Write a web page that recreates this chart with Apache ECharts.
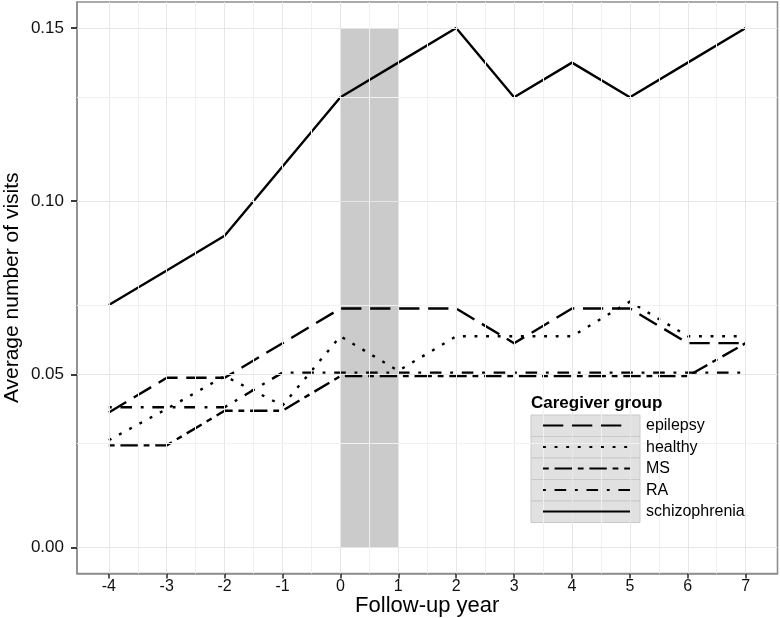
<!DOCTYPE html>
<html><head><meta charset="utf-8">
<script src="https://cdn.jsdelivr.net/npm/echarts@6/dist/echarts.min.js"></script>
<style>html,body{margin:0;padding:0;background:#fff}#c{width:780px;height:618px}</style>
</head><body><div id="c"></div>
<script>
// ---- data ----
const years = [-4, -3, -2, -1, 0, 1, 2, 3, 4, 5, 6, 7];
const groups = ['epilepsy', 'healthy', 'MS', 'RA', 'schizophrenia'];
const epilepsy     = [0.039, 0.049, 0.049, 0.059, 0.069, 0.069, 0.069, 0.059, 0.069, 0.069, 0.059, 0.059];
const healthy      = [0.031, 0.040, 0.0495, 0.041, 0.061, 0.051, 0.061, 0.061, 0.061, 0.071, 0.061, 0.061];
const ms           = [0.0295, 0.0295, 0.0395, 0.0395, 0.0495, 0.0495, 0.0495, 0.0495, 0.0495, 0.0495, 0.0495, 0.059];
const ra           = [0.0405, 0.0405, 0.0405, 0.0505, 0.0505, 0.0505, 0.0505, 0.0505, 0.0505, 0.0505, 0.0505, 0.0505];
const schizophrenia= [0.07, 0.08, 0.09, 0.11, 0.13, 0.14, 0.15, 0.13, 0.14, 0.13, 0.14, 0.15];
const yTicks = [0, 0.05, 0.10, 0.15];
const yMinor = [0.025, 0.075, 0.125];
const xTicks = years;
const xMinor = [-3.5, -2.5, -1.5, -0.5, 0.5, 1.5, 2.5, 3.5, 4.5, 5.5, 6.5];
const windowX = [0, 1];
const windowY = [0, 0.15];

// ---- styles ----
const U = 2.9; // ggplot dash unit
const dashes = {
  epilepsy: [7*U, 3*U],
  healthy: [1*U, 3*U],
  MS: [2*U, 2*U, 6*U, 2*U],
  RA: [1*U, 3*U, 4*U, 3*U],
  schizophrenia: 'solid'
};
const seriesValues = {epilepsy, healthy, MS: ms, RA: ra, schizophrenia};
const FONT = '"Liberation Sans", Arial, Helvetica, sans-serif';
const LW = 2.4;
const Y_MIN = -0.0075, Y_MAX = 0.1575;

const chart = echarts.init(document.getElementById('c'), null, {renderer: 'canvas'});

const gridLines = [];
xTicks.forEach(v => gridLines.push({xAxis: v, lineStyle: {color: '#e6e6e6', width: 1, type: 'solid'}}));
xMinor.forEach(v => gridLines.push({xAxis: v, lineStyle: {color: '#f1f1f1', width: 1, type: 'solid'}}));
yTicks.forEach(v => gridLines.push({yAxis: v, lineStyle: {color: '#e6e6e6', width: 1, type: 'solid'}}));
yMinor.forEach(v => gridLines.push({yAxis: v, lineStyle: {color: '#f1f1f1', width: 1, type: 'solid'}}));

const series = [
  {
    type: 'line', name: '_grid', data: [], z: 0, silent: true,
    markLine: {silent: true, symbol: ['none', 'none'], label: {show: false}, data: gridLines, animation: false}
  },
  {
    type: 'line', name: '_window', data: [], z: 1, silent: true,
    markArea: {silent: true, itemStyle: {color: 'rgba(185,185,185,0.75)'},
      data: [[{xAxis: windowX[0], yAxis: windowY[0]}, {xAxis: windowX[1], yAxis: windowY[1]}]]}
  }
];
groups.forEach(g => {
  series.push({
    type: 'line', name: g, z: 3,
    data: years.map((y, i) => [y, seriesValues[g][i]]),
    symbol: 'none', showSymbol: false,
    lineStyle: {color: '#000', width: LW, type: dashes[g], cap: 'butt', join: 'round'},
    itemStyle: {color: '#000'}
  });
});

// legend box geometry (layout constants)
const LG = {x: 531, y: 415, w: 109, rowH: 21.5, bgX: 523, bgY: 389, bgW: 242, bgH: 139};
const graphics = [
  {type: 'rect', z: 3, shape: {x: LG.bgX, y: LG.bgY, width: LG.bgW, height: LG.bgH}, style: {fill: '#ffffff'}}
];
groups.forEach((g, i) => {
  graphics.push({type: 'rect', z: 3,
    shape: {x: LG.x, y: LG.y + i * LG.rowH, width: LG.w, height: LG.rowH},
    style: {fill: '#e1e1e1', stroke: '#c9c9c9', lineWidth: 1}});
});

chart.setOption({
  animation: false,
  backgroundColor: '#fff',
  title: {
    text: 'Caregiver group', left: LG.x, top: 395, padding: 0,
    textStyle: {fontFamily: FONT, fontSize: 17, fontWeight: 'bold', color: '#000'}
  },
  grid: {left: 77, right: 2.5, top: 2, bottom: 44.5, outerBoundsMode: 'none',
    show: true, borderColor: '#8f8f8f', borderWidth: 1.6, backgroundColor: 'transparent'},
  xAxis: {
    type: 'value', min: -4.55, max: 7.55,
    name: 'Follow-up year', nameLocation: 'middle', nameGap: 21, nameMoveOverlap: false,
    nameTextStyle: {fontFamily: FONT, fontSize: 22, color: '#000'},
    axisLine: {show: true, onZero: false, lineStyle: {color: '#8f8f8f', width: 1.6}},
    axisTick: {show: true, customValues: xTicks, length: 5, lineStyle: {color: '#333', width: 1.6}},
    axisLabel: {customValues: xTicks, margin: 5, fontFamily: FONT, fontSize: 16, color: '#111',
      formatter: v => String(v)},
    splitLine: {show: false}
  },
  yAxis: [
    {
      type: 'value', min: Y_MIN, max: Y_MAX, position: 'left',
      name: 'Average number of visits', nameLocation: 'middle', nameGap: 54, nameMoveOverlap: false,
      nameTextStyle: {fontFamily: FONT, fontSize: 21, color: '#000'},
      axisLine: {show: true, onZero: false, lineStyle: {color: '#8f8f8f', width: 1.6}},
      axisTick: {show: true, customValues: yTicks, length: 6, lineStyle: {color: '#333', width: 1.6}},
      axisLabel: {customValues: yTicks, margin: 13, fontFamily: FONT, fontSize: 17, color: '#111',
        formatter: v => v.toFixed(2)},
      splitLine: {show: false}
    },
    {
      type: 'value', min: Y_MIN, max: Y_MAX, position: 'left', offset: 0,
      axisLine: {show: false, onZero: false},
      axisTick: {show: true, customValues: yTicks, length: 6, lineStyle: {color: '#333', width: 1.6}},
      axisLabel: {show: false},
      splitLine: {show: false}
    }
  ],
  legend: {
    data: groups, orient: 'vertical', left: LG.x + 11, top: LG.y + 2, padding: 0,
    itemWidth: 87, itemHeight: LG.rowH, itemGap: 4.3,
    itemStyle: {opacity: 0},
    textStyle: {fontFamily: FONT, fontSize: 16, color: '#000', padding: [0, 0, 0, 11]},
    selectedMode: false, z: 6
  },
  graphic: {elements: graphics},
  series: series
});
</script>
</body></html>
